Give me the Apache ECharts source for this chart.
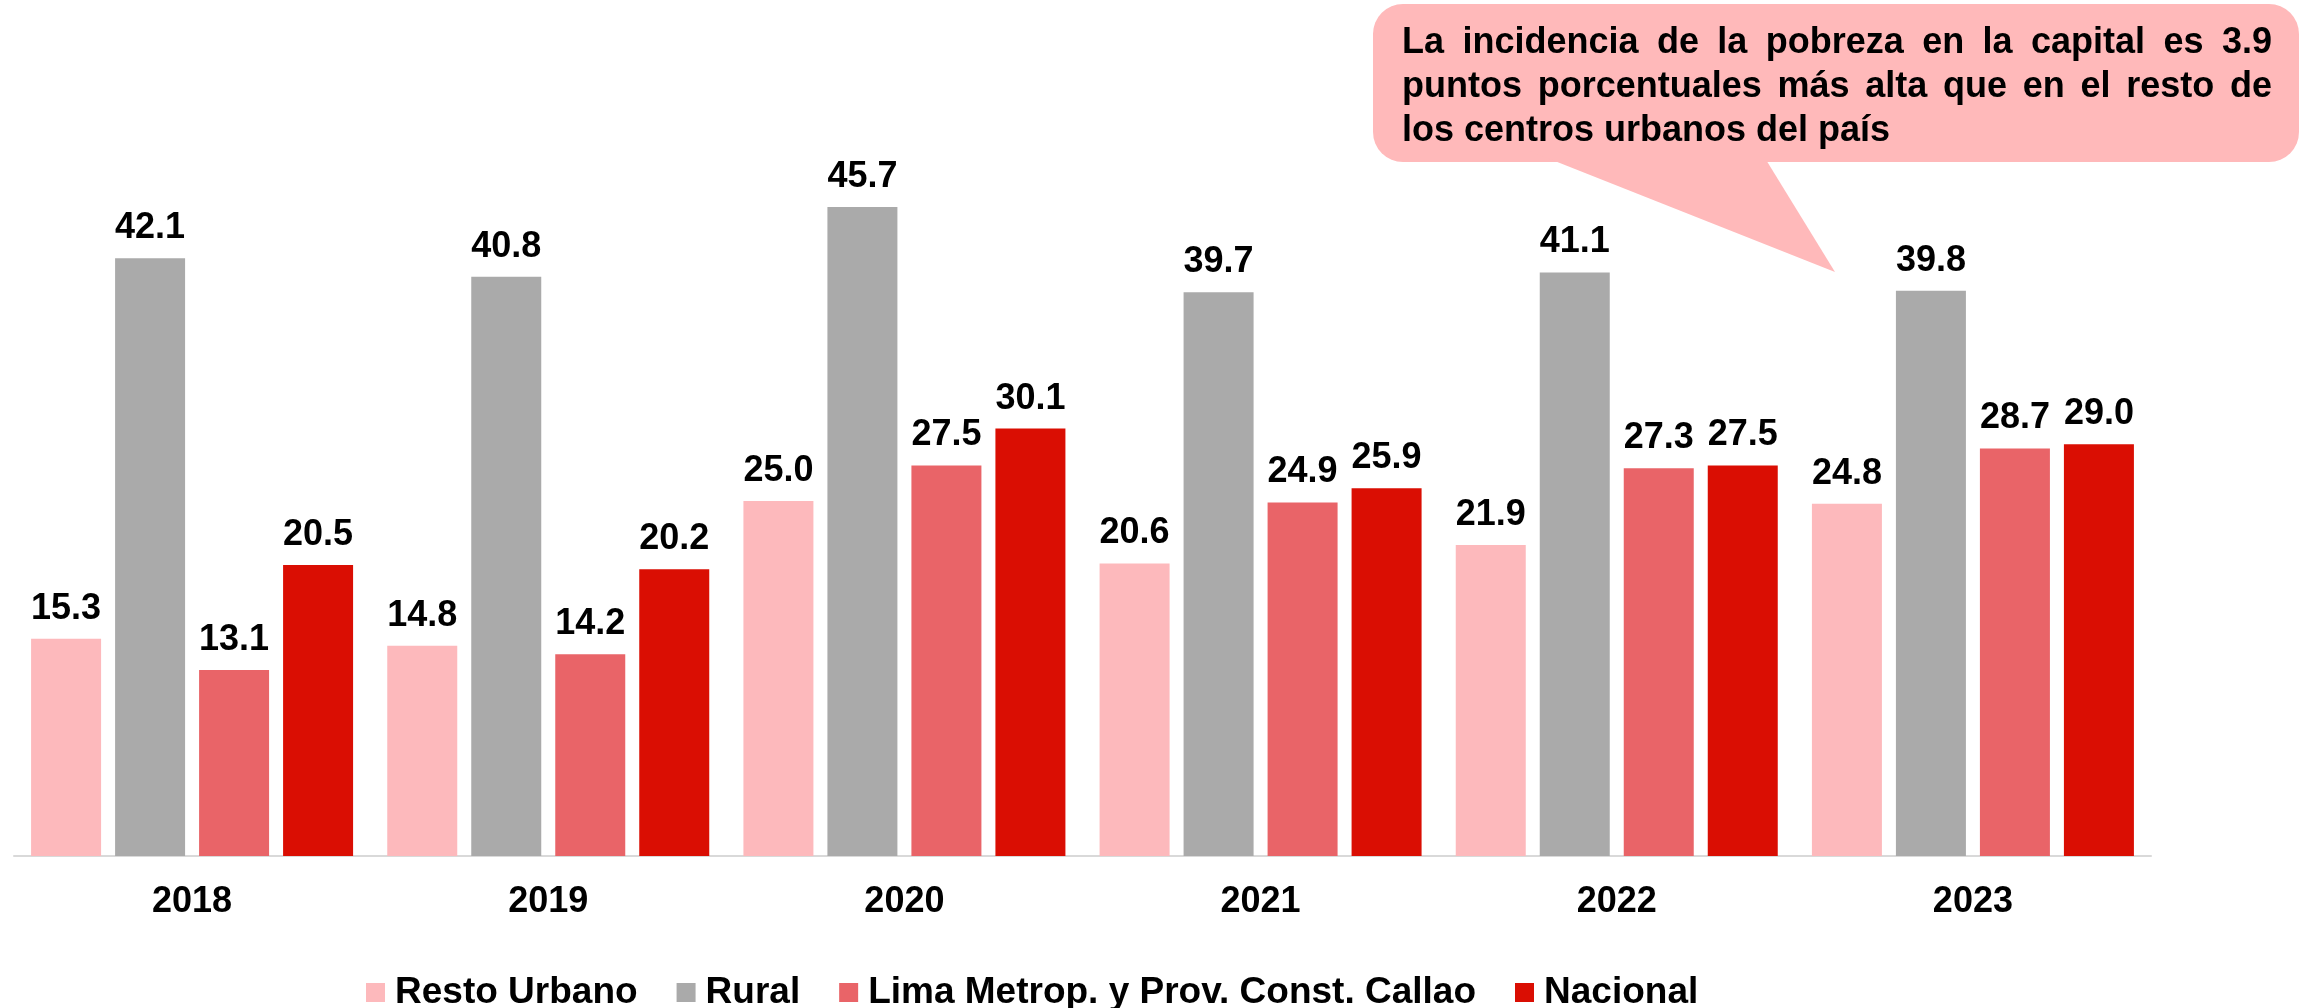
<!DOCTYPE html>
<html>
<head>
<meta charset="utf-8">
<title>Incidencia de la pobreza</title>
<script src="https://cdn.jsdelivr.net/npm/echarts@6/dist/echarts.min.js"></script>
<style>
  html, body { margin: 0; padding: 0; background: #ffffff; }
  #chart { width: 2302px; height: 1008px; }
</style>
</head>
<body>
<div id="chart"></div>
<script>
// Poverty incidence (%) by area of residence
const years = ['2018', '2019', '2020', '2021', '2022', '2023'];
const restoUrbano = [15.3, 14.8, 25.0, 20.6, 21.9, 24.8];
const rural = [42.1, 40.8, 45.7, 39.7, 41.1, 39.8];
const limaCallao = [13.1, 14.2, 27.5, 24.9, 27.3, 28.7];
const nacional = [20.5, 20.2, 30.1, 25.9, 27.5, 29.0];

const seriesNames = ['Resto Urbano', 'Rural', 'Lima Metrop. y Prov. Const. Callao', 'Nacional'];
const seriesColors = ['#FDB9BC', '#AAAAAA', '#E96468', '#DA0E03'];

// Callout text, one entry per line; the last line is not justified
const calloutLines = [
  'La incidencia de la pobreza en la capital es 3.9',
  'puntos porcentuales más alta que en el resto de',
  'los centros urbanos del país'
];

const FONT = "'Liberation Sans', Arial, Helvetica, sans-serif";

const chart = echarts.init(document.getElementById('chart'), null, { renderer: 'canvas' });

// Lay out a justified text block: words spread across the full box width.
// Text elements are top-aligned, so the top sits ~0.75em above the baseline.
function buildCalloutText(left, right, firstBaseline, lineStep, fontSize) {
  const ctx = document.createElement('canvas').getContext('2d');
  ctx.font = 'bold ' + fontSize + 'px ' + FONT;
  const width = right - left;
  const topOffset = 27;
  const els = [];
  calloutLines.forEach(function (line, i) {
    const y = firstBaseline + i * lineStep - topOffset;
    const words = line.split(' ');
    const last = i === calloutLines.length - 1;
    const widths = words.map(function (w) { return ctx.measureText(w).width; });
    const total = widths.reduce(function (a, b) { return a + b; }, 0);
    const gap = last ? ctx.measureText(' ').width : (width - total) / (words.length - 1);
    let x = left;
    words.forEach(function (w, j) {
      els.push({
        type: 'text',
        x: x,
        y: y,
        z: 20,
        style: {
          text: w,
          font: 'bold ' + fontSize + 'px ' + FONT,
          fill: '#000000',
          align: 'left',
          verticalAlign: 'top'
        }
      });
      x += widths[j] + gap;
    });
  });
  return els;
}

function makeSeries(name, data, color) {
  return {
    name: name,
    type: 'bar',
    data: data,
    barWidth: 70,
    barGap: '20%',
    itemStyle: { color: color },
    label: {
      show: true,
      position: 'top',
      distance: 12,
      color: '#000000',
      fontFamily: FONT,
      fontWeight: 'bold',
      fontSize: 36,
      formatter: function (p) { return p.value.toFixed(1); }
    }
  };
}

const bubbleFill = '#FFB9BA';

const option = {
  backgroundColor: '#ffffff',
  animation: false,
  textStyle: { fontFamily: FONT },
  grid: { left: 14, right: 151, top: 146, bottom: 152, containLabel: false },
  legend: {
    left: 361,
    top: 969,
    itemWidth: 19,
    itemHeight: 19,
    itemGap: 39,
    icon: 'rect',
    textStyle: {
      fontFamily: FONT,
      fontWeight: 'bold',
      fontSize: 37,
      color: '#000000',
      padding: [0, 0, 0, 5]
    },
    data: seriesNames
  },
  xAxis: {
    type: 'category',
    data: years,
    axisLine: { show: true, lineStyle: { color: '#D9D9D9', width: 2 } },
    axisTick: { show: false },
    axisLabel: {
      color: '#000000',
      fontFamily: FONT,
      fontWeight: 'bold',
      fontSize: 36,
      margin: 28
    }
  },
  yAxis: {
    type: 'value',
    min: 0,
    max: 50,
    interval: 10,
    show: false,
    splitLine: { show: false }
  },
  series: [
    makeSeries(seriesNames[0], restoUrbano, seriesColors[0]),
    makeSeries(seriesNames[1], rural, seriesColors[1]),
    makeSeries(seriesNames[2], limaCallao, seriesColors[2]),
    makeSeries(seriesNames[3], nacional, seriesColors[3])
  ],
  graphic: [
    {
      type: 'rect',
      z: 10,
      shape: { x: 1373, y: 4, width: 926, height: 158, r: 30 },
      style: { fill: bubbleFill }
    },
    {
      type: 'polygon',
      z: 10,
      shape: { points: [[1527, 150], [1760, 150], [1835, 272]] },
      style: { fill: bubbleFill }
    }
  ].concat(buildCalloutText(1402, 2272, 52, 44, 36))
};

chart.setOption(option);
</script>
</body>
</html>
